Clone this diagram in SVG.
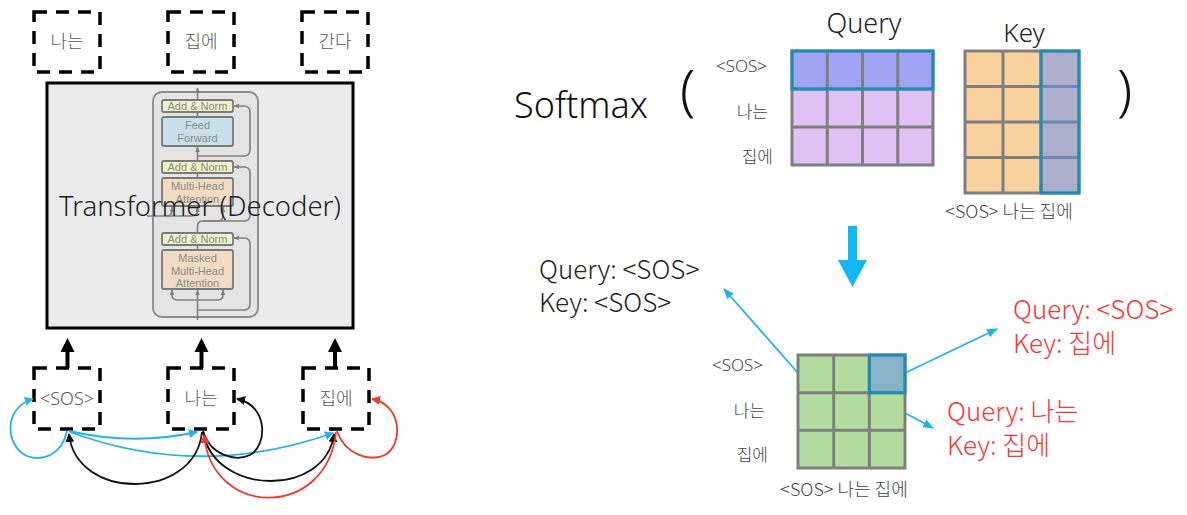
<svg xmlns="http://www.w3.org/2000/svg" width="1187" height="515" viewBox="0 0 1187 515">
<defs>
<style>
.t{font-family:"Noto Sans","Noto Sans CJK KR",sans-serif;font-weight:300;}
.k{font-family:"Noto Sans CJK KR","Noto Sans",sans-serif;font-weight:300;}
.dash{fill:none;stroke:#000;stroke-width:3.5;stroke-dasharray:13 9;}
.box{fill:#595959;font-size:18px;text-anchor:middle;}
.lbl{fill:#444;font-size:17px;text-anchor:end;}
.fig{fill:none;stroke:#808080;stroke-width:1.6;}
.ft{fill:#8a8a8a;font-size:11px;text-anchor:middle;font-family:"Liberation Sans",sans-serif;}
.an{fill:#eff2c9;stroke:#7a7a7a;stroke-width:1.8;}
.grid{fill:none;stroke:#7f7f7f;stroke-width:3;}
.hl{fill:none;stroke:#1c8db8;stroke-width:3;}
.red{fill:#ff3333;font-size:26px;}
.blk{fill:#222;font-size:26px;}
.cb{fill:none;stroke:#1fb4ee;stroke-width:1.8;}
.ck{fill:none;stroke:#111;stroke-width:1.8;}
.cr{fill:none;stroke:#f03a2e;stroke-width:1.8;}
</style>
<marker id="mb" viewBox="0 0 10 10" refX="9" refY="5" markerWidth="9" markerHeight="9" markerUnits="userSpaceOnUse" orient="auto"><path d="M0,0 L10,5 L0,10 z" fill="#1fb4ee"/></marker>
<marker id="mk" viewBox="0 0 10 10" refX="9" refY="5" markerWidth="9" markerHeight="9" markerUnits="userSpaceOnUse" orient="auto"><path d="M0,0 L10,5 L0,10 z" fill="#111"/></marker>
<marker id="mr" viewBox="0 0 10 10" refX="9" refY="5" markerWidth="9" markerHeight="9" markerUnits="userSpaceOnUse" orient="auto"><path d="M0,0 L10,5 L0,10 z" fill="#f03a2e"/></marker>
<marker id="mg" viewBox="0 0 10 10" refX="9" refY="5" markerWidth="6" markerHeight="6" markerUnits="userSpaceOnUse" orient="auto"><path d="M0,1 L10,5 L0,9 z" fill="#808080"/></marker>
<marker id="mc" viewBox="0 0 10 10" refX="9" refY="5" markerWidth="11" markerHeight="11" markerUnits="userSpaceOnUse" orient="auto"><path d="M0,1 L10,5 L0,9 z" fill="#1fb4ee"/></marker>
</defs>
<rect width="1187" height="515" fill="#fff"/>

<!-- Output tokens -->
<g id="out-na"><rect class="dash" x="34" y="12" width="66" height="60"/><text class="k box" x="67" y="48">나는</text></g>
<g id="out-jib"><rect class="dash" x="168" y="12" width="66" height="60"/><text class="k box" x="201" y="48">집에</text></g>
<g id="out-ganda"><rect class="dash" x="302" y="12" width="66" height="60"/><text class="k box" x="335" y="48">간다</text></g>

<!-- Transformer decoder -->
<g id="decoder">
<rect x="47" y="83" width="306" height="245" fill="#ebebeb" stroke="#000" stroke-width="3"/>
<rect x="153" y="92" width="105" height="225" rx="9" fill="#e4e4e4" stroke="#8a8a8a" stroke-width="1.8"/>
<g class="fig">
<path d="M197.5,320 V290" marker-end="url(#mg)"/>
<path d="M197.5,300 H178 Q172,300 172,295 V290" marker-end="url(#mg)"/>
<path d="M197.5,300 H217 Q223,300 223,295 V290" marker-end="url(#mg)"/>
<path d="M197.5,310 H244 Q250,310 250,304 V244 Q250,238 244,238 H234" marker-end="url(#mg)"/>
<path d="M197.5,250 V245"/>
<path d="M197.5,233 V226 Q197.5,221 203,221 H217 Q223,221 223,216 V207" marker-end="url(#mg)"/>
<path d="M203,221 H244 Q250,221 250,215 V173 Q250,167 244,167 H234" marker-end="url(#mg)"/>
<path d="M147,216 H191 Q197.5,216 197.5,211 V207" marker-end="url(#mg)"/>
<path d="M166,216 Q172,216 172,211 V207" marker-end="url(#mg)"/>
<path d="M197.5,178 V173"/>
<path d="M197.5,161 V147" marker-end="url(#mg)"/>
<path d="M197.5,156 H244 Q250,156 250,150 V112 Q250,106 244,106 H234" marker-end="url(#mg)"/>
<path d="M197.5,117 V112"/>
<path d="M197.5,100 V88" marker-end="url(#mg)"/>
</g>
<rect class="an" x="162" y="100" width="71" height="12" rx="2"/>
<text class="ft" x="197.5" y="110">Add &amp; Norm</text>
<rect x="162" y="117" width="71" height="29" rx="2" fill="#c8e0ea" stroke="#7a7a7a" stroke-width="1.8"/>
<text class="ft" x="197.5" y="129">Feed</text><text class="ft" x="197.5" y="141.5">Forward</text>
<rect class="an" x="162" y="161" width="71" height="12" rx="2"/>
<text class="ft" x="197.5" y="171">Add &amp; Norm</text>
<rect x="162" y="178" width="71" height="28" rx="2" fill="#f2dcc1" stroke="#7a7a7a" stroke-width="1.8"/>
<text class="ft" x="197.5" y="190">Multi-Head</text><text class="ft" x="197.5" y="202.5">Attention</text>
<rect class="an" x="162" y="233" width="71" height="12" rx="2"/>
<text class="ft" x="197.5" y="243">Add &amp; Norm</text>
<rect x="162" y="250" width="71" height="39" rx="2" fill="#f2dcc1" stroke="#7a7a7a" stroke-width="1.8"/>
<text class="ft" x="197.5" y="262">Masked</text><text class="ft" x="197.5" y="274.5">Multi-Head</text><text class="ft" x="197.5" y="287">Attention</text>
<text class="t" x="200" y="216" font-size="27" fill="#1c1c2a" text-anchor="middle" textLength="282" lengthAdjust="spacingAndGlyphs">Transformer (Decoder)</text>
</g>

<!-- Input tokens -->
<g id="in-sos"><rect class="dash" x="34" y="368" width="66" height="61"/><text class="t box" x="67" y="405">&lt;SOS&gt;</text></g>
<g id="in-na"><rect class="dash" x="168" y="368" width="66" height="61"/><text class="k box" x="201" y="405">나는</text></g>
<g id="in-jib"><rect class="dash" x="303" y="368" width="66" height="61"/><text class="k box" x="336" y="405">집에</text></g>

<!-- Connectors -->
<g id="connectors">
<g fill="#000">
<rect x="65.5" y="350" width="4" height="18"/><path d="M60.5,352 L67.5,338 L74.5,352 z"/>
<rect x="199.5" y="350" width="4" height="18"/><path d="M194.5,352 L201.5,338 L208.5,352 z"/>
<rect x="333" y="350" width="4" height="18"/><path d="M328,352 L335,338 L342,352 z"/>
</g>
<path class="cb" d="M67,431 C62,455 42,462 27,456 C6,447 2,408 33,399" marker-end="url(#mb)"/>
<path class="cb" d="M69,431 Q133,446 197,432" marker-end="url(#mb)"/>
<path class="cb" d="M70,432 Q200,480 333,433" marker-end="url(#mb)"/>
<path class="ck" d="M202,432 C195,501 76,501 69,434" marker-end="url(#mk)"/>
<path class="ck" d="M203,431 C210,455 235,462 250,455 C268,445 268,405 237,399" marker-end="url(#mk)"/>
<path class="ck" d="M203,432 C215,497 326,497 334,434" marker-end="url(#mk)"/>
<path class="cr" d="M336,432 C327,519 212,519 204,435" marker-end="url(#mr)"/>
<path class="cr" d="M337,431 C345,455 370,462 385,455 C403,445 403,405 372,399" marker-end="url(#mr)"/>

<path d="M848,226 H857 V260 H867 L852.5,287 L838,260 H848 z" fill="#10b9f5"/>
<path class="cb" d="M798,373 L724,289" marker-end="url(#mc)"/>
<path class="cb" d="M905,373 L997,329" marker-end="url(#mc)"/>
<path class="cb" d="M905,413 L933,428" marker-end="url(#mc)"/>
</g>

<!-- Softmax expression -->
<g id="softmax">
<text class="t" x="514" y="118" font-size="36" font-weight="400" fill="#111">Softmax</text>
<text class="t" x="680" y="110" font-size="55" font-weight="400" fill="#111">(</text>
<text class="t" x="1117" y="110" font-size="55" font-weight="400" fill="#111">)</text>
</g>

<g id="query">
<text class="t" x="864" y="33" font-size="27" fill="#222" text-anchor="middle">Query</text>
<rect x="792" y="51" width="141" height="38" fill="#a1a3f5"/>
<rect x="792" y="89" width="141" height="76" fill="#dfc1f3"/>
<path class="grid" d="M792,51 H933 V165 H792 z M827.25,51 V165 M862.5,51 V165 M897.75,51 V165 M792,89 H933 M792,127 H933"/>
<rect class="hl" x="792" y="51" width="141" height="38"/>
<text class="t lbl" x="767" y="72">&lt;SOS&gt;</text>
<text class="k lbl" x="768" y="118">나는</text>
<text class="k lbl" x="773" y="163">집에</text>
</g>

<g id="key">
<text class="t" x="1024" y="42" font-size="26" fill="#222" text-anchor="middle">Key</text>
<rect x="965" y="51" width="76" height="142" fill="#f8d19d"/>
<rect x="1041" y="51" width="38" height="142" fill="#adaecb"/>
<path class="grid" d="M965,51 H1079 V193 H965 z M1003,51 V193 M1041,51 V193 M965,86.5 H1041 M965,122 H1041 M965,157.5 H1041"/>
<path d="M1041,86.5 H1079 M1041,122 H1079 M1041,157.5 H1079" stroke="#6f86b8" stroke-width="3"/>
<rect class="hl" x="1041" y="51" width="38" height="142"/>
<text class="k" x="1009" y="218" font-size="18" fill="#444" text-anchor="middle">&lt;SOS&gt; 나는 집에</text>
</g>

<g id="result">
<rect x="798" y="355" width="107" height="113" fill="#b2dc9d"/>
<rect x="869.3" y="355" width="35.7" height="37.7" fill="#87b3c8"/>
<path class="grid" d="M798,355 H905 V468 H798 z M833.7,355 V468 M869.3,355 V468 M798,392.7 H905 M798,430.3 H905"/>
<rect class="hl" x="869.3" y="355" width="35.7" height="37.7"/>
<text class="t lbl" x="763" y="371">&lt;SOS&gt;</text>
<text class="k lbl" x="765" y="417">나는</text>
<text class="k lbl" x="768" y="461">집에</text>
<text class="k" x="844" y="496" font-size="18" fill="#444" text-anchor="middle">&lt;SOS&gt; 나는 집에</text>
</g>

<g id="note-sos">
<text class="k blk" x="539" y="279">Query: &lt;SOS&gt;</text>
<text class="k blk" x="539" y="312">Key: &lt;SOS&gt;</text>
</g>
<g id="note-sos-jib">
<text class="k red" x="1013" y="319">Query: &lt;SOS&gt;</text>
<text class="k red" x="1013" y="353">Key: 집에</text>
</g>
<g id="note-na-jib">
<text class="k red" x="947" y="421">Query: 나는</text>
<text class="k red" x="947" y="455">Key: 집에</text>
</g>
</svg>
